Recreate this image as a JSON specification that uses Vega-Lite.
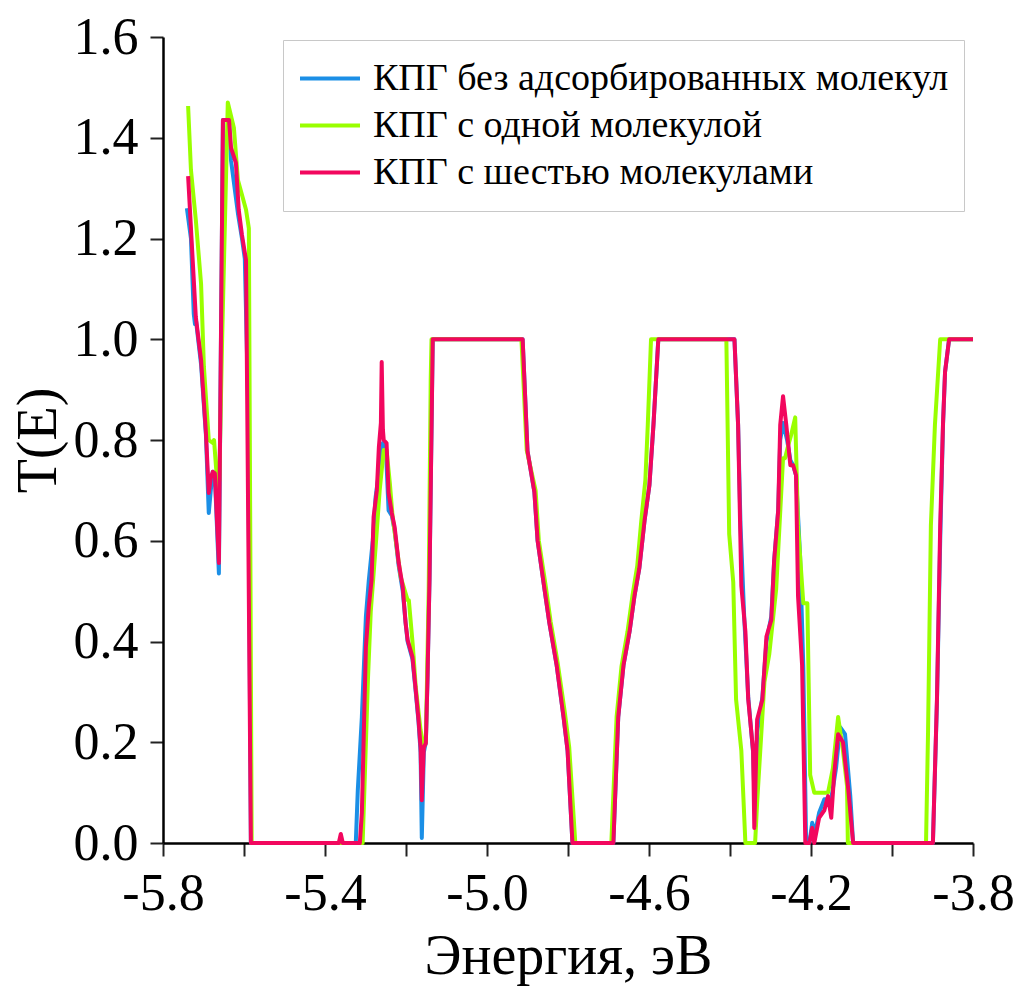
{
  "$schema": "https://vega.github.io/schema/vega-lite/v6.json",
  "width": 810,
  "height": 806,
  "autosize": {"type": "none"},
  "padding": {"left": 163, "top": 37, "right": 47, "bottom": 149},
  "background": "white",
  "config": {
    "font": "Liberation Serif",
    "view": {"stroke": null},
    "axis": {
      "grid": false,
      "domainColor": "#000000",
      "domainWidth": 2.5,
      "tickColor": "#222222",
      "tickWidth": 2,
      "tickSize": 13,
      "labelFont": "Liberation Serif",
      "labelFontSize": 52,
      "labelColor": "#000000",
      "titleFont": "Liberation Serif",
      "titleFontSize": 56,
      "titleFontWeight": "normal",
      "titleColor": "#000000"
    },
    "legend": {
      "orient": "none",
      "legendX": 120,
      "legendY": 3,
      "direction": "vertical",
      "labelFont": "Liberation Serif",
      "labelFontSize": 38,
      "labelColor": "#000000",
      "labelLimit": 0,
      "symbolType": "stroke",
      "symbolSize": 3600,
      "symbolStrokeWidth": 4,
      "labelOffset": 11,
      "rowPadding": 0,
      "clipHeight": 47,
      "padding": 15,
      "strokeColor": "#c8c8c8",
      "fillColor": "#ffffff"
    }
  },
  "datasets": {
    "curves": [
      {"s": "КПГ без адсорбированных молекул", "x": -5.741, "y": 1.26},
      {"s": "КПГ без адсорбированных молекул", "x": -5.731, "y": 1.2},
      {"s": "КПГ без адсорбированных молекул", "x": -5.724, "y": 1.05},
      {"s": "КПГ без адсорбированных молекул", "x": -5.721, "y": 1.03},
      {"s": "КПГ без адсорбированных молекул", "x": -5.719, "y": 1.04},
      {"s": "КПГ без адсорбированных молекул", "x": -5.706, "y": 0.95},
      {"s": "КПГ без адсорбированных молекул", "x": -5.694, "y": 0.81},
      {"s": "КПГ без адсорбированных молекул", "x": -5.687, "y": 0.655},
      {"s": "КПГ без адсорбированных молекул", "x": -5.682, "y": 0.7},
      {"s": "КПГ без адсорбированных молекул", "x": -5.677, "y": 0.737},
      {"s": "КПГ без адсорбированных молекул", "x": -5.672, "y": 0.73},
      {"s": "КПГ без адсорбированных молекул", "x": -5.662, "y": 0.535},
      {"s": "КПГ без адсорбированных молекул", "x": -5.652, "y": 1.435},
      {"s": "КПГ без адсорбированных молекул", "x": -5.637, "y": 1.435},
      {"s": "КПГ без адсорбированных молекул", "x": -5.632, "y": 1.355},
      {"s": "КПГ без адсорбированных молекул", "x": -5.615, "y": 1.25},
      {"s": "КПГ без адсорбированных молекул", "x": -5.605, "y": 1.2},
      {"s": "КПГ без адсорбированных молекул", "x": -5.598, "y": 1.16},
      {"s": "КПГ без адсорбированных молекул", "x": -5.59, "y": 0.88},
      {"s": "КПГ без адсорбированных молекул", "x": -5.583, "y": 0},
      {"s": "КПГ без адсорбированных молекул", "x": -5.324, "y": 0},
      {"s": "КПГ без адсорбированных молекул", "x": -5.319, "y": 0.105},
      {"s": "КПГ без адсорбированных молекул", "x": -5.309, "y": 0.25},
      {"s": "КПГ без адсорбированных молекул", "x": -5.299, "y": 0.45},
      {"s": "КПГ без адсорбированных молекул", "x": -5.292, "y": 0.52},
      {"s": "КПГ без адсорбированных молекул", "x": -5.282, "y": 0.6},
      {"s": "КПГ без адсорбированных молекул", "x": -5.275, "y": 0.687},
      {"s": "КПГ без адсорбированных молекул", "x": -5.257, "y": 0.794},
      {"s": "КПГ без адсорбированных молекул", "x": -5.25, "y": 0.79},
      {"s": "КПГ без адсорбированных молекул", "x": -5.243, "y": 0.66},
      {"s": "КПГ без адсорбированных молекул", "x": -5.235, "y": 0.65},
      {"s": "КПГ без адсорбированных молекул", "x": -5.228, "y": 0.62},
      {"s": "КПГ без адсорбированных молекул", "x": -5.218, "y": 0.55},
      {"s": "КПГ без адсорбированных молекул", "x": -5.208, "y": 0.5},
      {"s": "КПГ без адсорбированных молекул", "x": -5.201, "y": 0.437},
      {"s": "КПГ без адсорбированных молекул", "x": -5.196, "y": 0.4},
      {"s": "КПГ без адсорбированных молекул", "x": -5.184, "y": 0.365},
      {"s": "КПГ без адсорбированных молекул", "x": -5.176, "y": 0.3},
      {"s": "КПГ без адсорбированных молекул", "x": -5.169, "y": 0.24},
      {"s": "КПГ без адсорбированных молекул", "x": -5.164, "y": 0.18},
      {"s": "КПГ без адсорбированных молекул", "x": -5.161, "y": 0.01},
      {"s": "КПГ без адсорбированных молекул", "x": -5.156, "y": 0.18},
      {"s": "КПГ без адсорбированных молекул", "x": -5.151, "y": 0.2},
      {"s": "КПГ без адсорбированных молекул", "x": -5.147, "y": 0.324},
      {"s": "КПГ без адсорбированных молекул", "x": -5.142, "y": 0.522},
      {"s": "КПГ без адсорбированных молекул", "x": -5.134, "y": 1.0},
      {"s": "КПГ без адсорбированных молекул", "x": -4.912, "y": 1.0},
      {"s": "КПГ без адсорбированных молекул", "x": -4.9, "y": 0.778},
      {"s": "КПГ без адсорбированных молекул", "x": -4.883, "y": 0.697},
      {"s": "КПГ без адсорбированных молекул", "x": -4.875, "y": 0.6},
      {"s": "КПГ без адсорбированных молекул", "x": -4.858, "y": 0.504},
      {"s": "КПГ без адсорбированных молекул", "x": -4.846, "y": 0.437},
      {"s": "КПГ без адсорбированных молекул", "x": -4.828, "y": 0.353},
      {"s": "КПГ без адсорбированных молекул", "x": -4.811, "y": 0.25},
      {"s": "КПГ без адсорбированных молекул", "x": -4.801, "y": 0.183},
      {"s": "КПГ без адсорбированных молекул", "x": -4.789, "y": 0},
      {"s": "КПГ без адсорбированных молекул", "x": -4.688, "y": 0},
      {"s": "КПГ без адсорбированных молекул", "x": -4.676, "y": 0.25},
      {"s": "КПГ без адсорбированных молекул", "x": -4.663, "y": 0.353},
      {"s": "КПГ без адсорбированных молекул", "x": -4.648, "y": 0.42},
      {"s": "КПГ без адсорбированных молекул", "x": -4.636, "y": 0.49},
      {"s": "КПГ без адсорбированных молекул", "x": -4.624, "y": 0.545},
      {"s": "КПГ без адсорбированных молекул", "x": -4.611, "y": 0.64},
      {"s": "КПГ без адсорбированных молекул", "x": -4.599, "y": 0.71},
      {"s": "КПГ без адсорбированных молекул", "x": -4.589, "y": 0.83},
      {"s": "КПГ без адсорбированных молекул", "x": -4.577, "y": 1.0},
      {"s": "КПГ без адсорбированных молекул", "x": -4.389, "y": 1.0},
      {"s": "КПГ без адсорбированных молекул", "x": -4.38, "y": 0.83},
      {"s": "КПГ без адсорбированных молекул", "x": -4.374, "y": 0.63},
      {"s": "КПГ без адсорбированных молекул", "x": -4.365, "y": 0.45},
      {"s": "КПГ без адсорбированных молекул", "x": -4.355, "y": 0.29},
      {"s": "КПГ без адсорбированных молекул", "x": -4.343, "y": 0.18},
      {"s": "КПГ без адсорбированных молекул", "x": -4.338, "y": 0.05},
      {"s": "КПГ без адсорбированных молекул", "x": -4.333, "y": 0.22},
      {"s": "КПГ без адсорбированных молекул", "x": -4.32, "y": 0.29},
      {"s": "КПГ без адсорбированных молекул", "x": -4.31, "y": 0.4},
      {"s": "КПГ без адсорбированных молекул", "x": -4.298, "y": 0.45},
      {"s": "КПГ без адсорбированных молекул", "x": -4.291, "y": 0.56},
      {"s": "КПГ без адсорбированных молекул", "x": -4.281, "y": 0.66},
      {"s": "КПГ без адсорбированных молекул", "x": -4.276, "y": 0.8},
      {"s": "КПГ без адсорбированных молекул", "x": -4.269, "y": 0.834},
      {"s": "КПГ без адсорбированных молекул", "x": -4.259, "y": 0.8},
      {"s": "КПГ без адсорбированных молекул", "x": -4.251, "y": 0.76},
      {"s": "КПГ без адсорбированных молекул", "x": -4.244, "y": 0.75},
      {"s": "КПГ без адсорбированных молекул", "x": -4.237, "y": 0.73},
      {"s": "КПГ без адсорбированных молекул", "x": -4.227, "y": 0.57},
      {"s": "КПГ без адсорбированных молекул", "x": -4.219, "y": 0.35},
      {"s": "КПГ без адсорбированных молекул", "x": -4.212, "y": 0},
      {"s": "КПГ без адсорбированных молекул", "x": -4.204, "y": 0},
      {"s": "КПГ без адсорбированных молекул", "x": -4.197, "y": 0.04},
      {"s": "КПГ без адсорбированных молекул", "x": -4.19, "y": 0.02},
      {"s": "КПГ без адсорбированных молекул", "x": -4.18, "y": 0.06},
      {"s": "КПГ без адсорбированных молекул", "x": -4.167, "y": 0.087},
      {"s": "КПГ без адсорбированных молекул", "x": -4.15, "y": 0.087},
      {"s": "КПГ без адсорбированных молекул", "x": -4.138, "y": 0.15},
      {"s": "КПГ без адсорбированных молекул", "x": -4.128, "y": 0.23},
      {"s": "КПГ без адсорбированных молекул", "x": -4.116, "y": 0.216},
      {"s": "КПГ без адсорбированных молекул", "x": -4.103, "y": 0.093},
      {"s": "КПГ без адсорбированных молекул", "x": -4.096, "y": 0},
      {"s": "КПГ без адсорбированных молекул", "x": -3.899, "y": 0},
      {"s": "КПГ без адсорбированных молекул", "x": -3.889, "y": 0.28},
      {"s": "КПГ без адсорбированных молекул", "x": -3.881, "y": 0.6},
      {"s": "КПГ без адсорбированных молекул", "x": -3.874, "y": 0.83},
      {"s": "КПГ без адсорбированных молекул", "x": -3.869, "y": 0.935},
      {"s": "КПГ без адсорбированных молекул", "x": -3.859, "y": 1.0},
      {"s": "КПГ без адсорбированных молекул", "x": -3.8, "y": 1.0},

      {"s": "КПГ с одной молекулой", "x": -5.738, "y": 1.463},
      {"s": "КПГ с одной молекулой", "x": -5.731, "y": 1.336},
      {"s": "КПГ с одной молекулой", "x": -5.719, "y": 1.237},
      {"s": "КПГ с одной молекулой", "x": -5.706, "y": 1.11},
      {"s": "КПГ с одной молекулой", "x": -5.699, "y": 0.945},
      {"s": "КПГ с одной молекулой", "x": -5.687, "y": 0.8},
      {"s": "КПГ с одной молекулой", "x": -5.677, "y": 0.794},
      {"s": "КПГ с одной молекулой", "x": -5.674, "y": 0.8},
      {"s": "КПГ с одной молекулой", "x": -5.669, "y": 0.746},
      {"s": "КПГ с одной молекулой", "x": -5.664, "y": 0.707},
      {"s": "КПГ с одной молекулой", "x": -5.661, "y": 0.72},
      {"s": "КПГ с одной молекулой", "x": -5.654, "y": 1.0},
      {"s": "КПГ с одной молекулой", "x": -5.64, "y": 1.47},
      {"s": "КПГ с одной молекулой", "x": -5.625, "y": 1.42},
      {"s": "КПГ с одной молекулой", "x": -5.615, "y": 1.316},
      {"s": "КПГ с одной молекулой", "x": -5.595, "y": 1.257},
      {"s": "КПГ с одной молекулой", "x": -5.588, "y": 1.22},
      {"s": "КПГ с одной молекулой", "x": -5.581, "y": 0},
      {"s": "КПГ с одной молекулой", "x": -5.307, "y": 0},
      {"s": "КПГ с одной молекулой", "x": -5.294, "y": 0.324},
      {"s": "КПГ с одной молекулой", "x": -5.287, "y": 0.46},
      {"s": "КПГ с одной молекулой", "x": -5.275, "y": 0.588},
      {"s": "КПГ с одной молекулой", "x": -5.265, "y": 0.7},
      {"s": "КПГ с одной молекулой", "x": -5.255, "y": 0.78},
      {"s": "КПГ с одной молекулой", "x": -5.248, "y": 0.78},
      {"s": "КПГ с одной молекулой", "x": -5.24, "y": 0.715},
      {"s": "КПГ с одной молекулой", "x": -5.233, "y": 0.647},
      {"s": "КПГ с одной молекулой", "x": -5.213, "y": 0.528},
      {"s": "КПГ с одной молекулой", "x": -5.196, "y": 0.482},
      {"s": "КПГ с одной молекулой", "x": -5.193, "y": 0.482},
      {"s": "КПГ с одной молекулой", "x": -5.183, "y": 0.39},
      {"s": "КПГ с одной молекулой", "x": -5.176, "y": 0.31},
      {"s": "КПГ с одной молекулой", "x": -5.164, "y": 0.224},
      {"s": "КПГ с одной молекулой", "x": -5.156, "y": 0.19},
      {"s": "КПГ с одной молекулой", "x": -5.151, "y": 0.2},
      {"s": "КПГ с одной молекулой", "x": -5.144, "y": 0.5},
      {"s": "КПГ с одной молекулой", "x": -5.139, "y": 0.92},
      {"s": "КПГ с одной молекулой", "x": -5.137, "y": 1.0},
      {"s": "КПГ с одной молекулой", "x": -4.915, "y": 1.0},
      {"s": "КПГ с одной молекулой", "x": -4.902, "y": 0.78},
      {"s": "КПГ с одной молекулой", "x": -4.88, "y": 0.7},
      {"s": "КПГ с одной молекулой", "x": -4.872, "y": 0.6},
      {"s": "КПГ с одной молекулой", "x": -4.855, "y": 0.51},
      {"s": "КПГ с одной молекулой", "x": -4.843, "y": 0.44},
      {"s": "КПГ с одной молекулой", "x": -4.826, "y": 0.36},
      {"s": "КПГ с одной молекулой", "x": -4.808, "y": 0.26},
      {"s": "КПГ с одной молекулой", "x": -4.797, "y": 0.19},
      {"s": "КПГ с одной молекулой", "x": -4.782, "y": 0},
      {"s": "КПГ с одной молекулой", "x": -4.693, "y": 0},
      {"s": "КПГ с одной молекулой", "x": -4.68, "y": 0.25},
      {"s": "КПГ с одной молекулой", "x": -4.668, "y": 0.35},
      {"s": "КПГ с одной молекулой", "x": -4.653, "y": 0.42},
      {"s": "КПГ с одной молекулой", "x": -4.641, "y": 0.49},
      {"s": "КПГ с одной молекулой", "x": -4.629, "y": 0.55},
      {"s": "КПГ с одной молекулой", "x": -4.619, "y": 0.64},
      {"s": "КПГ с одной молекулой", "x": -4.609, "y": 0.72},
      {"s": "КПГ с одной молекулой", "x": -4.603, "y": 0.83},
      {"s": "КПГ с одной молекулой", "x": -4.595, "y": 1.0},
      {"s": "КПГ с одной молекулой", "x": -4.409, "y": 1.0},
      {"s": "КПГ с одной молекулой", "x": -4.402, "y": 0.613},
      {"s": "КПГ с одной молекулой", "x": -4.392, "y": 0.518},
      {"s": "КПГ с одной молекулой", "x": -4.385, "y": 0.285},
      {"s": "КПГ с одной молекулой", "x": -4.372, "y": 0.183},
      {"s": "КПГ с одной молекулой", "x": -4.362, "y": 0},
      {"s": "КПГ с одной молекулой", "x": -4.338, "y": 0},
      {"s": "КПГ с одной молекулой", "x": -4.333, "y": 0.08},
      {"s": "КПГ с одной молекулой", "x": -4.315, "y": 0.32},
      {"s": "КПГ с одной молекулой", "x": -4.303, "y": 0.375},
      {"s": "КПГ с одной молекулой", "x": -4.286, "y": 0.504},
      {"s": "КПГ с одной молекулой", "x": -4.269, "y": 0.764},
      {"s": "КПГ с одной молекулой", "x": -4.264, "y": 0.764},
      {"s": "КПГ с одной молекулой", "x": -4.256, "y": 0.79},
      {"s": "КПГ с одной молекулой", "x": -4.249, "y": 0.81},
      {"s": "КПГ с одной молекулой", "x": -4.239, "y": 0.845},
      {"s": "КПГ с одной молекулой", "x": -4.232, "y": 0.63},
      {"s": "КПГ с одной молекулой", "x": -4.219, "y": 0.476},
      {"s": "КПГ с одной молекулой", "x": -4.209, "y": 0.476},
      {"s": "КПГ с одной молекулой", "x": -4.202, "y": 0.135},
      {"s": "КПГ с одной молекулой", "x": -4.192, "y": 0.1},
      {"s": "КПГ с одной молекулой", "x": -4.158, "y": 0.1},
      {"s": "КПГ с одной молекулой", "x": -4.146, "y": 0.148},
      {"s": "КПГ с одной молекулой", "x": -4.133, "y": 0.25},
      {"s": "КПГ с одной молекулой", "x": -4.121, "y": 0.183},
      {"s": "КПГ с одной молекулой", "x": -4.111, "y": 0.113},
      {"s": "КПГ с одной молекулой", "x": -4.109, "y": 0},
      {"s": "КПГ с одной молекулой", "x": -3.916, "y": 0},
      {"s": "КПГ с одной молекулой", "x": -3.911, "y": 0.22},
      {"s": "КПГ с одной молекулой", "x": -3.904, "y": 0.63},
      {"s": "КПГ с одной молекулой", "x": -3.894, "y": 0.83},
      {"s": "КПГ с одной молекулой", "x": -3.881, "y": 1.0},
      {"s": "КПГ с одной молекулой", "x": -3.8, "y": 1.0},

      {"s": "КПГ с шестью молекулами", "x": -5.738, "y": 1.324},
      {"s": "КПГ с шестью молекулами", "x": -5.719, "y": 1.044},
      {"s": "КПГ с шестью молекулами", "x": -5.706, "y": 0.959},
      {"s": "КПГ с шестью молекулами", "x": -5.694, "y": 0.814},
      {"s": "КПГ с шестью молекулами", "x": -5.687, "y": 0.695},
      {"s": "КПГ с шестью молекулами", "x": -5.682, "y": 0.725},
      {"s": "КПГ с шестью молекулами", "x": -5.677, "y": 0.737},
      {"s": "КПГ с шестью молекулами", "x": -5.672, "y": 0.734},
      {"s": "КПГ с шестью молекулами", "x": -5.662, "y": 0.556},
      {"s": "КПГ с шестью молекулами", "x": -5.652, "y": 1.435},
      {"s": "КПГ с шестью молекулами", "x": -5.637, "y": 1.435},
      {"s": "КПГ с шестью молекулами", "x": -5.632, "y": 1.38},
      {"s": "КПГ с шестью молекулами", "x": -5.62, "y": 1.35},
      {"s": "КПГ с шестью молекулами", "x": -5.613, "y": 1.257},
      {"s": "КПГ с шестью молекулами", "x": -5.605, "y": 1.207},
      {"s": "КПГ с шестью молекулами", "x": -5.595, "y": 1.157},
      {"s": "КПГ с шестью молекулами", "x": -5.583, "y": 0},
      {"s": "КПГ с шестью молекулами", "x": -5.366, "y": 0},
      {"s": "КПГ с шестью молекулами", "x": -5.361, "y": 0.018},
      {"s": "КПГ с шестью молекулами", "x": -5.356, "y": 0},
      {"s": "КПГ с шестью молекулами", "x": -5.314, "y": 0},
      {"s": "КПГ с шестью молекулами", "x": -5.309, "y": 0.06},
      {"s": "КПГ с шестью молекулами", "x": -5.304, "y": 0.224},
      {"s": "КПГ с шестью молекулами", "x": -5.299, "y": 0.389},
      {"s": "КПГ с шестью молекулами", "x": -5.292, "y": 0.468},
      {"s": "КПГ с шестью молекулами", "x": -5.285, "y": 0.522},
      {"s": "КПГ с шестью молекулами", "x": -5.28, "y": 0.647},
      {"s": "КПГ с шестью молекулами", "x": -5.272, "y": 0.7},
      {"s": "КПГ с шестью молекулами", "x": -5.267, "y": 0.786},
      {"s": "КПГ с шестью молекулами", "x": -5.262, "y": 0.834},
      {"s": "КПГ с шестью молекулами", "x": -5.26, "y": 0.955},
      {"s": "КПГ с шестью молекулами", "x": -5.257, "y": 0.82},
      {"s": "КПГ с шестью молекулами", "x": -5.255, "y": 0.8},
      {"s": "КПГ с шестью молекулами", "x": -5.248, "y": 0.794},
      {"s": "КПГ с шестью молекулами", "x": -5.243, "y": 0.695},
      {"s": "КПГ с шестью молекулами", "x": -5.235, "y": 0.655},
      {"s": "КПГ с шестью молекулами", "x": -5.228, "y": 0.627},
      {"s": "КПГ с шестью молекулами", "x": -5.218, "y": 0.556},
      {"s": "КПГ с шестью молекулами", "x": -5.208, "y": 0.508},
      {"s": "КПГ с шестью молекулами", "x": -5.201, "y": 0.437},
      {"s": "КПГ с шестью молекулами", "x": -5.196, "y": 0.403},
      {"s": "КПГ с шестью молекулами", "x": -5.184, "y": 0.369},
      {"s": "КПГ с шестью молекулами", "x": -5.176, "y": 0.304},
      {"s": "КПГ с шестью молекулами", "x": -5.169, "y": 0.244},
      {"s": "КПГ с шестью молекулами", "x": -5.164, "y": 0.19},
      {"s": "КПГ с шестью молекулами", "x": -5.161, "y": 0.085},
      {"s": "КПГ с шестью молекулами", "x": -5.156, "y": 0.19},
      {"s": "КПГ с шестью молекулами", "x": -5.151, "y": 0.198},
      {"s": "КПГ с шестью молекулами", "x": -5.147, "y": 0.324},
      {"s": "КПГ с шестью молекулами", "x": -5.142, "y": 0.522},
      {"s": "КПГ с шестью молекулами", "x": -5.134, "y": 1.0},
      {"s": "КПГ с шестью молекулами", "x": -4.912, "y": 1.0},
      {"s": "КПГ с шестью молекулами", "x": -4.9, "y": 0.778},
      {"s": "КПГ с шестью молекулами", "x": -4.883, "y": 0.697},
      {"s": "КПГ с шестью молекулами", "x": -4.875, "y": 0.6},
      {"s": "КПГ с шестью молекулами", "x": -4.858, "y": 0.504},
      {"s": "КПГ с шестью молекулами", "x": -4.846, "y": 0.437},
      {"s": "КПГ с шестью молекулами", "x": -4.828, "y": 0.353},
      {"s": "КПГ с шестью молекулами", "x": -4.811, "y": 0.25},
      {"s": "КПГ с шестью молекулами", "x": -4.801, "y": 0.183},
      {"s": "КПГ с шестью молекулами", "x": -4.789, "y": 0},
      {"s": "КПГ с шестью молекулами", "x": -4.688, "y": 0},
      {"s": "КПГ с шестью молекулами", "x": -4.676, "y": 0.25},
      {"s": "КПГ с шестью молекулами", "x": -4.663, "y": 0.353},
      {"s": "КПГ с шестью молекулами", "x": -4.648, "y": 0.42},
      {"s": "КПГ с шестью молекулами", "x": -4.636, "y": 0.49},
      {"s": "КПГ с шестью молекулами", "x": -4.624, "y": 0.545},
      {"s": "КПГ с шестью молекулами", "x": -4.611, "y": 0.64},
      {"s": "КПГ с шестью молекулами", "x": -4.599, "y": 0.71},
      {"s": "КПГ с шестью молекулами", "x": -4.589, "y": 0.83},
      {"s": "КПГ с шестью молекулами", "x": -4.577, "y": 1.0},
      {"s": "КПГ с шестью молекулами", "x": -4.389, "y": 1.0},
      {"s": "КПГ с шестью молекулами", "x": -4.38, "y": 0.83},
      {"s": "КПГ с шестью молекулами", "x": -4.372, "y": 0.51},
      {"s": "КПГ с шестью молекулами", "x": -4.362, "y": 0.42},
      {"s": "КПГ с шестью молекулами", "x": -4.355, "y": 0.285},
      {"s": "КПГ с шестью молекулами", "x": -4.343, "y": 0.183},
      {"s": "КПГ с шестью молекулами", "x": -4.34, "y": 0.03},
      {"s": "КПГ с шестью молекулами", "x": -4.333, "y": 0.245},
      {"s": "КПГ с шестью молекулами", "x": -4.32, "y": 0.285},
      {"s": "КПГ с шестью молекулами", "x": -4.31, "y": 0.41},
      {"s": "КПГ с шестью молекулами", "x": -4.298, "y": 0.443},
      {"s": "КПГ с шестью молекулами", "x": -4.291, "y": 0.56},
      {"s": "КПГ с шестью молекулами", "x": -4.281, "y": 0.66},
      {"s": "КПГ с шестью молекулами", "x": -4.276, "y": 0.83},
      {"s": "КПГ с шестью молекулами", "x": -4.269, "y": 0.887},
      {"s": "КПГ с шестью молекулами", "x": -4.261, "y": 0.83},
      {"s": "КПГ с шестью молекулами", "x": -4.251, "y": 0.75},
      {"s": "КПГ с шестью молекулами", "x": -4.244, "y": 0.75},
      {"s": "КПГ с шестью молекулами", "x": -4.237, "y": 0.73},
      {"s": "КПГ с шестью молекулами", "x": -4.232, "y": 0.49},
      {"s": "КПГ с шестью молекулами", "x": -4.222, "y": 0.353},
      {"s": "КПГ с шестью молекулами", "x": -4.214, "y": 0},
      {"s": "КПГ с шестью молекулами", "x": -4.204, "y": 0},
      {"s": "КПГ с шестью молекулами", "x": -4.197, "y": 0.03},
      {"s": "КПГ с шестью молекулами", "x": -4.192, "y": 0},
      {"s": "КПГ с шестью молекулами", "x": -4.18, "y": 0.05},
      {"s": "КПГ с шестью молекулами", "x": -4.167, "y": 0.065},
      {"s": "КПГ с шестью молекулами", "x": -4.158, "y": 0.093},
      {"s": "КПГ с шестью молекулами", "x": -4.15, "y": 0.05},
      {"s": "КПГ с шестью молекулами", "x": -4.143, "y": 0.135},
      {"s": "КПГ с шестью молекулами", "x": -4.133, "y": 0.216},
      {"s": "КПГ с шестью молекулами", "x": -4.121, "y": 0.2},
      {"s": "КПГ с шестью молекулами", "x": -4.108, "y": 0.107},
      {"s": "КПГ с шестью молекулами", "x": -4.096, "y": 0},
      {"s": "КПГ с шестью молекулами", "x": -3.899, "y": 0},
      {"s": "КПГ с шестью молекулами", "x": -3.889, "y": 0.285},
      {"s": "КПГ с шестью молекулами", "x": -3.881, "y": 0.63},
      {"s": "КПГ с шестью молекулами", "x": -3.874, "y": 0.834},
      {"s": "КПГ с шестью молекулами", "x": -3.869, "y": 0.935},
      {"s": "КПГ с шестью молекулами", "x": -3.859, "y": 1.0},
      {"s": "КПГ с шестью молекулами", "x": -3.8, "y": 1.0}
    ]
  },
  "data": {"name": "curves"},
  "encoding": {
    "x": {
      "field": "x",
      "type": "quantitative",
      "scale": {"domain": [-5.8, -3.8], "nice": false, "zero": false},
      "axis": {
        "title": "Энергия, эВ",
        "values": [-5.8, -5.6, -5.4, -5.2, -5.0, -4.8, -4.6, -4.4, -4.2, -4.0, -3.8],
        "labelExpr": "abs(round(datum.value*10)) % 4 == 2 ? replace(format(datum.value, '.1f'), '\u2212', '-') : ''",
        "labelPadding": 12,
        "titlePadding": 10,
        "labelFlush": false,
        "labelOverlap": false
      }
    },
    "y": {
      "field": "y",
      "type": "quantitative",
      "scale": {"domain": [0, 1.6], "nice": false},
      "axis": {
        "title": "T(E)",
        "values": [0, 0.2, 0.4, 0.6, 0.8, 1.0, 1.2, 1.4, 1.6],
        "format": ".1f",
        "labelPadding": 12,
        "titlePadding": 6,
        "labelOverlap": false
      }
    },
    "color": {
      "field": "s",
      "type": "nominal",
      "title": null,
      "scale": {
        "domain": ["КПГ без адсорбированных молекул", "КПГ с одной молекулой", "КПГ с шестью молекулами"],
        "range": ["#1b8fe6", "#99ff00", "#f2075e"]
      }
    }
  },
  "layer": [
    {"transform": [{"filter": "datum.s == 'КПГ без адсорбированных молекул'"}], "mark": {"type": "line", "strokeWidth": 4, "strokeJoin": "round"}},
    {"transform": [{"filter": "datum.s == 'КПГ с одной молекулой'"}], "mark": {"type": "line", "strokeWidth": 4, "strokeJoin": "round"}},
    {"transform": [{"filter": "datum.s == 'КПГ с шестью молекулами'"}], "mark": {"type": "line", "strokeWidth": 4, "strokeJoin": "round"}}
  ]
}
